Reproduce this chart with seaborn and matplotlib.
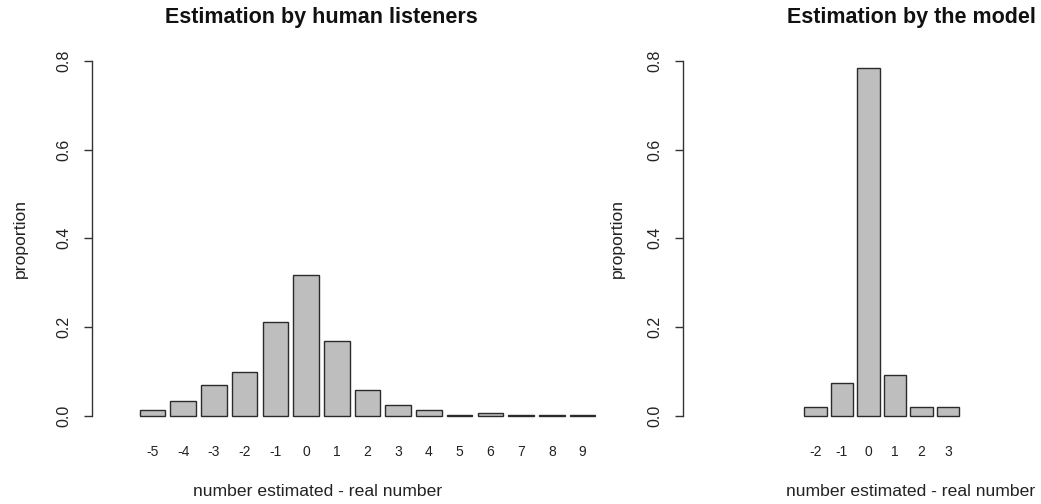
import matplotlib
matplotlib.use("Agg")
import matplotlib.pyplot as plt
import seaborn as sns
import pandas as pd

# Differences between the estimated and the real number of speakers
human_diff = ["-5", "-4", "-3", "-2", "-1", "0", "1", "2", "3", "4", "5", "6", "7", "8", "9"]
human_prop = [0.013, 0.032, 0.068, 0.098, 0.210, 0.316, 0.168, 0.057, 0.024, 0.013,
              0.002, 0.005, 0.002, 0.002, 0.002]

model_diff = ["-2", "-1", "0", "1", "2", "3"]
model_prop = [0.019, 0.074, 0.784, 0.092, 0.019, 0.019]

W, H = 1041, 504
sns.set_theme(style="white")
plt.rcParams["font.family"] = ["Liberation Sans", "DejaVu Sans"]

fig = plt.figure(figsize=(W / 100, H / 100), dpi=100)
fig.patch.set_facecolor("white")

BAR = "#BEBEBE"
EDGE = "#2b2b2b"
TXT = "#222222"


def px_axes(left, right, top, bottom):
    return fig.add_axes([left / W, 1 - bottom / H, (right - left) / W, (bottom - top) / H])


def draw_panel(ax, cats, vals, xlim, title, title_x, ylab_x, xlab_x):
    df = pd.DataFrame({"diff": cats, "proportion": vals})
    sns.barplot(data=df, x="diff", y="proportion", order=cats, ax=ax,
                color=BAR, saturation=1, width=1 / 1.2,
                edgecolor=EDGE, linewidth=1.0)
    for p in ax.patches:
        p.set_clip_on(False)
    ax.set_xlim(*xlim)
    ax.set_ylim(0, 0.8)
    ax.set_yticks([0.0, 0.2, 0.4, 0.6, 0.8])
    ax.set_yticklabels(["0.0", "0.2", "0.4", "0.6", "0.8"], rotation=90,
                       va="center", fontsize=11.5, color=TXT)
    ax.tick_params(axis="y", length=6, width=1, color="#333333", pad=9, left=True)
    ax.tick_params(axis="x", length=0, pad=21, labelsize=10, labelcolor=TXT)
    for s in ("top", "right", "bottom"):
        ax.spines[s].set_visible(False)
    ax.spines["left"].set_color("#333333")
    ax.spines["left"].set_linewidth(1)
    ax.set_xlabel("")
    ax.set_ylabel("")
    ax.patch.set_alpha(0)
    fig.text(title_x / W, 1 - 17 / H, title, ha="center", va="center",
             fontsize=15.5, fontweight="bold", color="#111111")
    fig.text(xlab_x / W, 1 - 491 / H, "number estimated - real number",
             ha="center", va="center", fontsize=12.6, color=TXT)
    fig.text(ylab_x / W, 1 - 238 / H, "proportion", ha="center", va="center",
             rotation=90, fontsize=12.6, color=TXT)


# bar centre of first category and spacing between bars, in pixels
ax1 = px_axes(92, 612, 61, 415.5)
c0, step = 152.5, 30.72
draw_panel(ax1, human_diff, human_prop,
           ((92 - c0) / step, (612 - c0) / step),
           "Estimation by human listeners", 321, 20, 318)

ax2 = px_axes(683, 1041, 61, 415.5)
c0, step = 815.5, 26.5
draw_panel(ax2, model_diff, model_prop,
           ((683 - c0) / step, (1041 - c0) / step),
           "Estimation by the model", 911, 617, 911)

fig.savefig("out.png", dpi=100, facecolor="white")
